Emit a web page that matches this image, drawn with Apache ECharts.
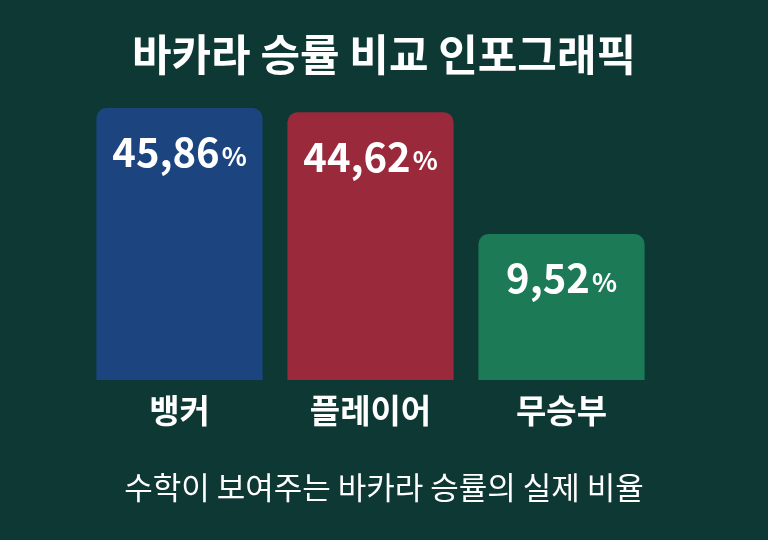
<!DOCTYPE html>
<html><head><meta charset="utf-8">
<script src="https://cdn.jsdelivr.net/npm/echarts@6/dist/echarts.min.js"></script>
<style>html,body{margin:0;padding:0;background:#0e3834;}#c{width:768px;height:540px;}</style>
</head><body><div id="c"></div>
<script>
const categories = ['뱅커', '플레이어', '무승부'];
const values = [45.86, 44.62, 9.52];
const colors = ['#1c4580', '#9a2a3b', '#1d7a56'];
const base = 32.6;
const F = '"Noto Sans CJK KR", "Noto Sans", sans-serif';
const chart = echarts.init(document.getElementById('c'));
chart.setOption({
  backgroundColor: '#0e3834',
  title: [
    {text: '바카라 승률 비교 인포그래픽', left: 'center', top: 28, textStyle: {color: '#fff', fontSize: 43, fontWeight: 'bold', fontFamily: F}},
    {text: '수학이 보여주는 바카라 승률의 실제 비율', left: 'center', top: 467, textStyle: {color: '#fff', fontSize: 31, fontWeight: 'normal', fontFamily: F}}
  ],
  grid: {left: 84, right: 111, top: 108, bottom: 160},
  xAxis: {type: 'category', data: categories, axisLine: {show: false}, axisTick: {show: false},
    axisLabel: {color: '#fff', fontSize: 33, fontWeight: 'bold', fontFamily: F, margin: 14}},
  yAxis: {type: 'value', min: 0, max: base + values[0], show: false, splitLine: {show: false}},
  series: [
    {type: 'bar', stack: 's', barWidth: '87%', silent: true,
     data: values.map((v, i) => ({value: base, itemStyle: {color: colors[i]}}))},
    {type: 'bar', stack: 's', barWidth: '87%',
     data: values.map((v, i) => ({value: v, itemStyle: {color: colors[i], borderRadius: [10, 10, 0, 0]}})),
     label: {show: true, position: 'insideTop', distance: 24,
       formatter: p => '{a|' + values[p.dataIndex].toFixed(2).replace('.', ',') + '}{b|%}',
       rich: {a: {color: '#fff', fontSize: 40, fontWeight: 'bold', fontFamily: F},
              b: {color: '#fff', fontSize: 26, fontWeight: 'bold', fontFamily: F, padding: [8, 0, 0, 2]}}}}
  ]
});
</script></body></html>
